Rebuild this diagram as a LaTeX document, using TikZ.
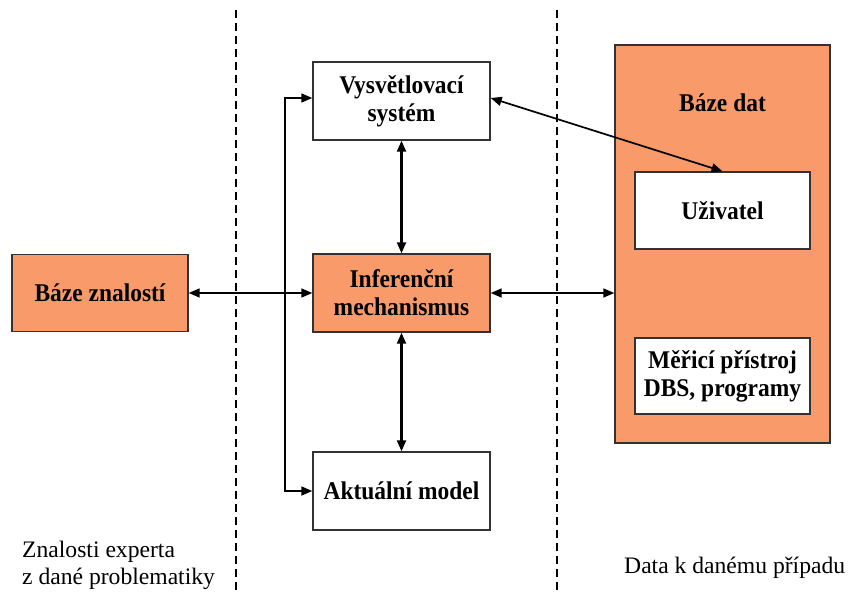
\documentclass[tikz,border=0pt]{standalone}
\usepackage{fontspec}
\setmainfont{Liberation Serif}
\newfontfamily\boldtall{Liberation Serif Bold}[FakeStretch=0.92]
\usetikzlibrary{arrows.meta}
\definecolor{salmon}{RGB}{248,154,106}
\definecolor{edge}{RGB}{50,50,50}
\begin{document}
\begin{tikzpicture}[x=1bp,y=-1bp,
  box/.style={draw=edge,line width=1.4bp,inner sep=0pt,align=center,
    font=\fontsize{25.6}{28}\boldtall},
  hot/.style={box,fill=salmon},
  cold/.style={box,fill=white},
  con/.style={line width=1.7bp,{Triangle[length=11bp,width=9bp]}-{Triangle[length=11bp,width=9bp]}},
  one/.style={line width=1.7bp,-{Triangle[length=11bp,width=9bp]}},
  sep/.style={line width=1.2bp,dash pattern=on 8bp off 5bp},
  lbl/.style={font=\fontsize{23.7}{27.5}\selectfont,inner sep=0pt,align=left}]
\useasboundingbox (0,0) rectangle (848,592);
\draw[sep] (236,10) -- (236,592);
\draw[sep] (557,10) -- (557,592);
\node[hot,minimum width=176bp,minimum height=77bp] (bz) at (100,293) {Báze znalostí};
\node[cold,minimum width=177bp,minimum height=78bp] (vs) at (401.5,101) {Vysvětlovací\\systém};
\node[hot,minimum width=177bp,minimum height=78bp] (im) at (401.5,293) {Inferenční\\mechanismus};
\node[cold,minimum width=177bp,minimum height=78bp] (am) at (401.5,491) {Aktuální model};
\node[hot,minimum width=215bp,minimum height=398bp] (bd) at (722.5,244) {};
\node[box,draw=none] (bdl) at (722.5,103) {Báze dat};
\node[cold,minimum width=175bp,minimum height=77bp] (uz) at (722.5,210.5) {Uživatel};
\node[cold,minimum width=175bp,minimum height=76bp] (mp) at (722.5,376) {Měřicí přístroj\\DBS, programy};
\coordinate (jn) at (285,293);
\draw[con] (bz.east) -- (im.west);
\draw[one] (jn) |- ([yshift=3bp]vs.west);
\draw[one] (jn) |- (am.west);
\draw[con] (im.east) -- (im.east -| bd.west);
\draw[con] ([yshift=3bp]vs.east) -- (uz.north);
\draw[con,line width=2.2bp] (vs.south) -- (im.north);
\draw[con,line width=2.2bp] (im.south) -- (am.north);
\node[lbl,anchor=base west] (t1) at (22,584.5) {Znalosti experta\\z dané problematiky};
\node[lbl,anchor=base west] (t2) at (624,573) {Data k danému případu};
\end{tikzpicture}
\end{document}
